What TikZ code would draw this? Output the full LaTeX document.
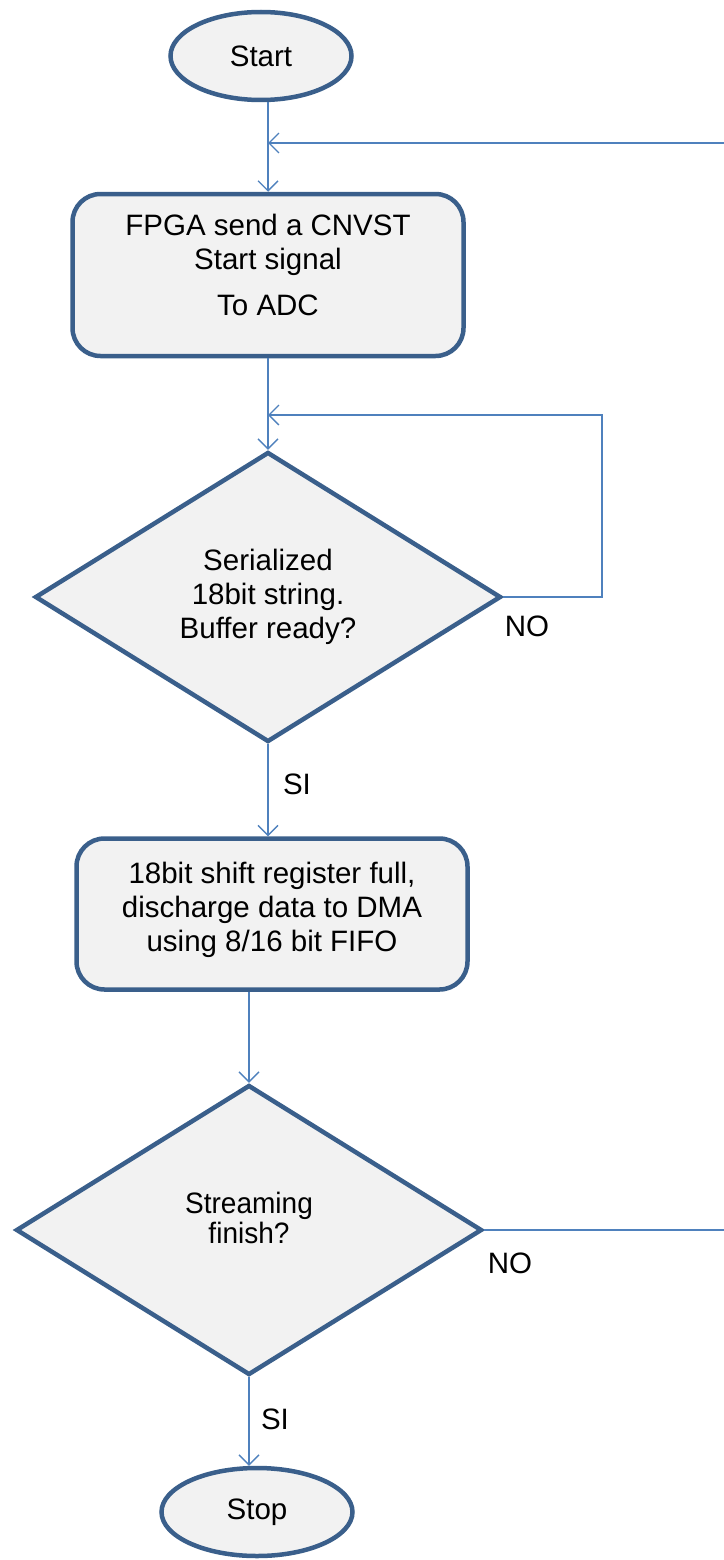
\documentclass[tikz,border=0pt]{standalone}
\usepackage{fontspec}
\setmainfont{Liberation Sans}
\usetikzlibrary{arrows.meta,positioning,shapes.geometric}

\definecolor{shapeline}{HTML}{3A5F8B}
\definecolor{flowline}{HTML}{4F81BD}
\definecolor{shapefill}{HTML}{F2F2F2}

\begin{document}
\begin{tikzpicture}[
  x=1pt, y=1pt,
  every node/.style={font=\fontsize{29.5}{34}\selectfont, align=center, inner sep=0pt},
  terminal/.style={draw=shapeline, fill=shapefill, line width=4.5pt, ellipse},
  process/.style={draw=shapeline, fill=shapefill, line width=4.5pt, rounded corners=28pt},
  decision/.style={draw=shapeline, fill=shapefill, line width=4.5pt, diamond, aspect=1.6,
    minimum width=466pt, minimum height=290pt},
  flow/.style={draw=flowline, line width=1.4pt, -{Straight Barb[length=10pt,width=20pt]}}
]
\useasboundingbox (0,0) rectangle (723,-1560);

\node[terminal, minimum width=181pt, minimum height=88pt] (start) at (261,-56) {Start};
\node[process, minimum width=391pt, minimum height=162pt] (send) at (268,-275)
  {FPGA send a CNVST\\Start signal\\[12pt]To ADC\\[-14pt]\mbox{}};
\node[decision] (ready) at (268,-597)
  {Serialized\\18bit string.\\Buffer ready?};
\node[process, minimum width=391pt, minimum height=151pt] (dma) at (272,-914)
  {18bit shift register full,\\discharge data to DMA\\using 8/16 bit FIFO\\[-20pt]\mbox{}};
\node[decision] (finish) at (249,-1230)
  {\scalebox{0.95}[1]{Streaming}\\[-4pt]\scalebox{0.95}[1]{finish?}\\[-10pt]\mbox{}};
\node[terminal, minimum width=191pt, minimum height=88pt] (stop) at (257,-1512) {Stop};

\coordinate (joinA) at (268,-143);
\coordinate (joinB) at (268,-415);
\coordinate (loopA) at (602,-415);
\coordinate (backR) at (760,-143);

\draw[flow] (start.south -| send.north) -- (send.north);
\draw[flow] (send.south) -- (ready.north);
\draw[flow] (ready.east) -| (loopA) -- (joinB);
\draw[flow] (ready.south) -- (ready.south |- dma.north);
\draw[flow] (dma.south -| finish.north) -- (finish.north);
\draw[flow] (finish.south) -- (finish.south |- stop.north);
\draw[flow] (finish.east) -| (backR) -- (joinA);

\node (no1) at (527,-626) {NO};
\node (si1) at (297,-784) {SI};
\node (no2) at (510,-1263) {NO};
\node (si2) at (275,-1419) {SI};
\end{tikzpicture}
\end{document}
